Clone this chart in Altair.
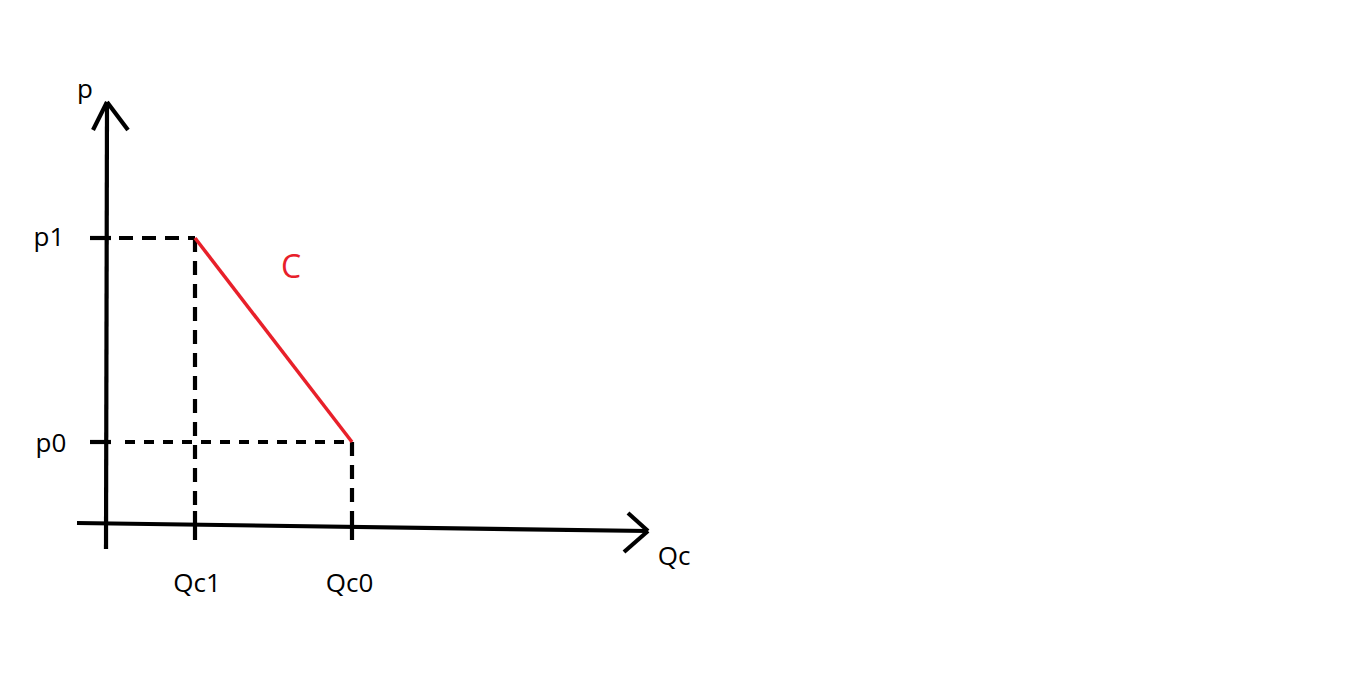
import altair as alt
import pandas as pd

# Key economic points (diagram units; origin at the axes' crossing)
Qc1 = 0.89
Qc0 = 2.46
p0 = 0.81
p1 = 2.85

# Solid black strokes: axes, arrowheads, tick stubs
solid_name = ["y_axis", "y_arrow_l", "y_arrow_r", "x_axis", "x_arrow_u", "x_arrow_d",
              "p1_tick", "p0_tick", "qc1_tick", "qc0_tick"]
solid_x = [0.0, 0.01, 0.01, -0.29, 5.42, 5.42, -0.16, -0.16, Qc1, Qc0]
solid_y = [-0.26, 4.21, 4.21, 0.0, -0.08, -0.08, p1, p0, 0.12, 0.12]
solid_x2 = [0.01, -0.13, 0.22, 5.42, 5.22, 5.18, 0.05, 0.05, Qc1, Qc0]
solid_y2 = [4.21, 3.93, 3.93, -0.08, 0.10, -0.29, p1, p0, -0.17, -0.17]

# Dashed guide lines
dash_x = [0.13, Qc1, Qc0]
dash_y = [p1, p1, p0]
dash_x2 = [Qc1, Qc1, Qc0]
dash_y2 = [p1, 0.12, 0.12]

dot_x = [0.19]
dot_y = [p0]
dot_x2 = [Qc0]
dot_y2 = [p0]

# Red line C
red_x = [Qc1]
red_y = [p1]
red_x2 = [Qc0]
red_y2 = [p0]

# Labels
lab_text = ["p", "p1", "p0", "Qc1", "Qc0", "Qc"]
lab_x = [-0.21, -0.57, -0.55, 0.91, 2.435, 5.68]
lab_y = [4.25, 2.77, 0.71, -0.69, -0.69, -0.42]

c_text = ["C"]
c_x = [1.85]
c_y = [2.45]

W, H = 1334, 663
xs = alt.Scale(domain=[-0.98, 12.36], nice=False, zero=False)
ys = alt.Scale(domain=[-1.48, 5.15], nice=False, zero=False)


def seg_layer(xa, ya, xb, yb, color, width, dash=None):
    df = pd.DataFrame({"x": xa, "y": ya, "x2": xb, "y2": yb})
    kw = dict(color=color, strokeWidth=width, strokeCap="butt")
    if dash is not None:
        kw["strokeDash"] = dash
    return alt.Chart(df).mark_rule(**kw).encode(
        x=alt.X("x:Q", scale=xs, axis=None),
        y=alt.Y("y:Q", scale=ys, axis=None),
        x2="x2:Q",
        y2="y2:Q",
    )


solid = seg_layer(solid_x, solid_y, solid_x2, solid_y2, "#000000", 4.2)
dashed = seg_layer(dash_x, dash_y, dash_x2, dash_y2, "#000000", 4.2, [14, 9])
dotted = seg_layer(dot_x, dot_y, dot_x2, dot_y2, "#000000", 4.2, [10, 9])
red = seg_layer(red_x, red_y, red_x2, red_y2, "#e8202a", 3.5)

labels = alt.Chart(pd.DataFrame({"t": lab_text, "x": lab_x, "y": lab_y})).mark_text(
    font="Open Sans", fontSize=26, color="#000000", align="center", baseline="alphabetic"
).encode(
    x=alt.X("x:Q", scale=xs, axis=None),
    y=alt.Y("y:Q", scale=ys, axis=None),
    text="t:N",
)

c_label = alt.Chart(pd.DataFrame({"t": c_text, "x": c_x, "y": c_y})).mark_text(
    font="Open Sans", fontSize=32, fontWeight=500, color="#e8202a", align="center",
    baseline="alphabetic"
).encode(
    x=alt.X("x:Q", scale=xs, axis=None),
    y=alt.Y("y:Q", scale=ys, axis=None),
    text="t:N",
)

chart = alt.layer(dotted, dashed, solid, red, labels, c_label).properties(
    width=W, height=H, autosize=alt.AutoSizeParams(type="none"), padding=0,
    background="#ffffff",
).configure_view(stroke=None)

chart.save("out.html", embed_options={"renderer": "svg", "actions": False})
